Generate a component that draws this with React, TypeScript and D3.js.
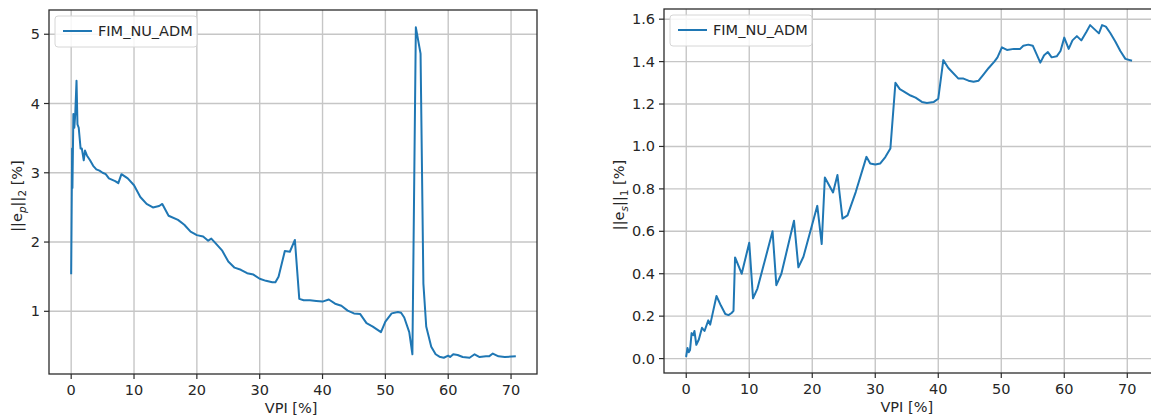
import React from 'react';
import * as d3 from 'd3';

const SERIES_NAME = 'FIM_NU_ADM';
const X_TICKS = [0, 10, 20, 30, 40, 50, 60, 70];
const LEFT_Y_TICKS = [1, 2, 3, 4, 5];
const RIGHT_Y_TICKS = [0, 0.2, 0.4, 0.6, 0.8, 1.0, 1.2, 1.4, 1.6];

const VPI_P = [0.0, 0.15, 0.2, 0.35, 0.5, 0.65, 0.85, 1.0, 1.2, 1.5, 1.7, 2.0, 2.2, 2.5, 3.0, 3.5, 4.0, 4.5, 5.0, 5.5, 6.0, 7.0, 7.5, 8.0, 9.0, 10.0, 11.0, 12.0, 13.0, 14.0, 14.5, 15.5, 17.0, 18.0, 19.0, 20.0, 21.0, 21.8, 22.3, 23.0, 24.0, 25.0, 26.0, 27.0, 28.0, 29.0, 30.0, 31.0, 32.0, 32.5, 33.0, 34.0, 34.8, 35.6, 36.3, 37.0, 38.0, 39.0, 40.0, 41.0, 42.0, 43.0, 44.0, 45.0, 46.0, 47.0, 48.0, 49.3, 50.0, 51.0, 52.0, 52.5, 53.0, 53.8, 54.3, 54.85, 55.6, 56.05, 56.5, 57.3, 58.0, 58.6, 59.3, 60.0, 60.3, 60.8, 61.5, 62.3, 63.4, 64.2, 65.0, 66.0, 66.5, 67.1, 68.0, 69.0, 70.6];
const ERR_P = [1.55, 3.35, 2.78, 3.85, 3.65, 3.85, 4.33, 3.7, 3.65, 3.35, 3.35, 3.18, 3.32, 3.25, 3.18, 3.1, 3.05, 3.03, 3.0, 2.98, 2.92, 2.88, 2.85, 2.98, 2.92, 2.82, 2.65, 2.55, 2.5, 2.52, 2.55, 2.38, 2.32, 2.25, 2.15, 2.1, 2.08, 2.02, 2.05, 1.98, 1.88, 1.72, 1.63, 1.6, 1.55, 1.53, 1.47, 1.44, 1.42, 1.42, 1.5, 1.87, 1.86, 2.03, 1.18, 1.16, 1.16, 1.15, 1.14, 1.17, 1.11, 1.08, 1.01, 0.97, 0.96, 0.83, 0.78, 0.7, 0.85, 0.97, 0.99, 0.98, 0.91, 0.7, 0.38, 5.1, 4.72, 1.4, 0.78, 0.49, 0.38, 0.345, 0.33, 0.36, 0.34, 0.38, 0.37, 0.34, 0.33, 0.38, 0.34, 0.35, 0.35, 0.39, 0.35, 0.34, 0.35];

const VPI_S = [0.0, 0.2, 0.4, 0.6, 0.85, 1.1, 1.3, 1.6, 2.0, 2.5, 2.9, 3.5, 3.8, 4.1, 4.8, 5.5, 6.2, 6.7, 7.2, 7.5, 7.75, 8.8, 10.0, 10.6, 11.3, 13.7, 14.3, 15.1, 17.1, 17.8, 18.6, 20.8, 21.5, 22.0, 23.3, 24.0, 24.8, 25.6, 26.9, 28.6, 29.2, 30.0, 30.8, 31.6, 32.4, 33.2, 33.9, 34.5, 35.6, 36.4, 37.4, 38.2, 39.3, 40.0, 40.8, 41.6, 43.2, 44.0, 44.8, 45.6, 46.4, 47.2, 48.0, 48.9, 49.4, 50.1, 50.9, 52.0, 53.0, 53.5, 54.3, 55.0, 56.2, 56.8, 57.4, 58.0, 58.8, 59.4, 60.0, 60.7, 61.3, 62.0, 62.7, 63.5, 64.1, 65.5, 66.0, 66.6, 67.3, 68.1, 68.9, 69.7, 70.6];
const ERR_S = [0.012, 0.05, 0.03, 0.04, 0.12, 0.11, 0.13, 0.065, 0.09, 0.145, 0.13, 0.18, 0.16, 0.2, 0.295, 0.25, 0.21, 0.205, 0.215, 0.225, 0.477, 0.4, 0.546, 0.284, 0.33, 0.6, 0.346, 0.4, 0.65, 0.43, 0.48, 0.72, 0.54, 0.854, 0.783, 0.865, 0.66, 0.675, 0.785, 0.951, 0.92, 0.915, 0.92, 0.95, 0.99, 1.3, 1.27, 1.26, 1.24, 1.23, 1.21, 1.205, 1.21, 1.225, 1.407, 1.37, 1.32, 1.32, 1.31, 1.305, 1.31, 1.34, 1.37, 1.4, 1.42, 1.467, 1.455, 1.46, 1.46, 1.475, 1.48, 1.475, 1.395, 1.43, 1.445, 1.42, 1.425, 1.45, 1.513, 1.46, 1.5, 1.52, 1.5, 1.54, 1.572, 1.533, 1.572, 1.565, 1.535, 1.495, 1.45, 1.413, 1.405];

const FONT = '"DejaVu Sans", sans-serif';
const LINE = '#1f77b4';
const GRID = '#c6c6c6';
const FRAME = '#2b2b2b';
const TEXT = '#262626';
const FS = 14.5;

type PanelProps = {
  left: number; right: number; top: number; bottom: number;
  xDomain: [number, number]; yDomain: [number, number];
  xs: number[]; ys: number[];
  yTicks: number[]; yFmt: (v: number) => string;
  sub1: string; sub2: string; ylabelX: number;
};

function Panel(p: PanelProps) {
  const x = d3.scaleLinear().domain(p.xDomain).range([p.left, p.right]);
  const y = d3.scaleLinear().domain(p.yDomain).range([p.bottom, p.top]);
  const pts: [number, number][] = p.xs.map((v, i) => [v, p.ys[i]]);
  const line = d3.line<[number, number]>().x(d => x(d[0])).y(d => y(d[1]));
  const midY = (p.top + p.bottom) / 2 + 4;
  const clipId = 'clip' + p.left;
  return (
    <g>
      <defs>
        <clipPath id={clipId}>
          <rect x={p.left} y={p.top} width={p.right - p.left} height={p.bottom - p.top} />
        </clipPath>
      </defs>
      <g clipPath={`url(#${clipId})`}>
        {X_TICKS.map(t => (
          <line key={'gx' + t} x1={x(t)} x2={x(t)} y1={p.top} y2={p.bottom} stroke={GRID} strokeWidth={1.4} />
        ))}
        {p.yTicks.map(t => (
          <line key={'gy' + t} x1={p.left} x2={p.right} y1={y(t)} y2={y(t)} stroke={GRID} strokeWidth={1.4} />
        ))}
        <path d={line(pts) || ''} fill="none" stroke={LINE} strokeWidth={2} strokeLinejoin="round" strokeLinecap="square" />
      </g>
      <rect x={p.left} y={p.top} width={p.right - p.left} height={p.bottom - p.top} fill="none" stroke={FRAME} strokeWidth={1.3} />
      {X_TICKS.map(t => (
        <g key={'tx' + t}>
          <line x1={x(t)} x2={x(t)} y1={p.bottom} y2={p.bottom + 5} stroke={FRAME} strokeWidth={1.2} />
          <text x={x(t)} y={p.bottom + 21} textAnchor="middle" fontSize={FS} fill={TEXT} fontFamily={FONT}>{t}</text>
        </g>
      ))}
      {p.yTicks.map(t => (
        <g key={'ty' + t}>
          <line x1={p.left - 5} x2={p.left} y1={y(t)} y2={y(t)} stroke={FRAME} strokeWidth={1.2} />
          <text x={p.left - 9} y={y(t) + 5} textAnchor="end" fontSize={FS} fill={TEXT} fontFamily={FONT}>{p.yFmt(t)}</text>
        </g>
      ))}
      <text x={(x(0) + x(70)) / 2} y={p.bottom + 39} textAnchor="middle" fontSize={FS} fill={TEXT} fontFamily={FONT}>VPI [%]</text>
      <text transform={`translate(${p.ylabelX},${midY}) rotate(-90)`} textAnchor="middle" fontSize={FS} fill={TEXT} fontFamily={FONT}>
        ||e<tspan fontStyle="italic" fontSize={10.5} dy={4}>{p.sub1}</tspan>
        <tspan dy={-4}>||</tspan>
        <tspan fontSize={10.5} dy={4}>{p.sub2}</tspan>
        <tspan dy={-4}> [%]</tspan>
      </text>
      <g>
        <rect x={p.left + 6} y={p.top + 6} width={142} height={31} rx={3} fill="#ffffff" fillOpacity={0.85} stroke="#d6d6d6" strokeWidth={1} />
        <line x1={p.left + 14} x2={p.left + 43} y1={p.top + 21} y2={p.top + 21} stroke={LINE} strokeWidth={2} />
        <text x={p.left + 49} y={p.top + 26} fontSize={FS} fill={TEXT} fontFamily={FONT}>{SERIES_NAME}</text>
      </g>
    </g>
  );
}

export default function App() {
  return (
    <svg width={1151} height={416} style={{ position: 'absolute', left: 0, top: 0, background: '#fff' }}>
      <rect x={0} y={0} width={1151} height={416} fill="#fff" />
      <Panel left={49} right={537} top={10} bottom={374}
        xDomain={[-3.53, 74.13]} yDomain={[0.095, 5.35]}
        xs={VPI_P} ys={ERR_P} yTicks={LEFT_Y_TICKS} yFmt={v => String(v)}
        sub1="p" sub2="2" ylabelX={22} />
      <Panel left={664} right={1153.3} top={9} bottom={373}
        xDomain={[-3.53, 74.13]} yDomain={[-0.068, 1.648]}
        xs={VPI_S} ys={ERR_S} yTicks={RIGHT_Y_TICKS} yFmt={v => v.toFixed(1)}
        sub1="s" sub2="1" ylabelX={624} />
    </svg>
  );
}
